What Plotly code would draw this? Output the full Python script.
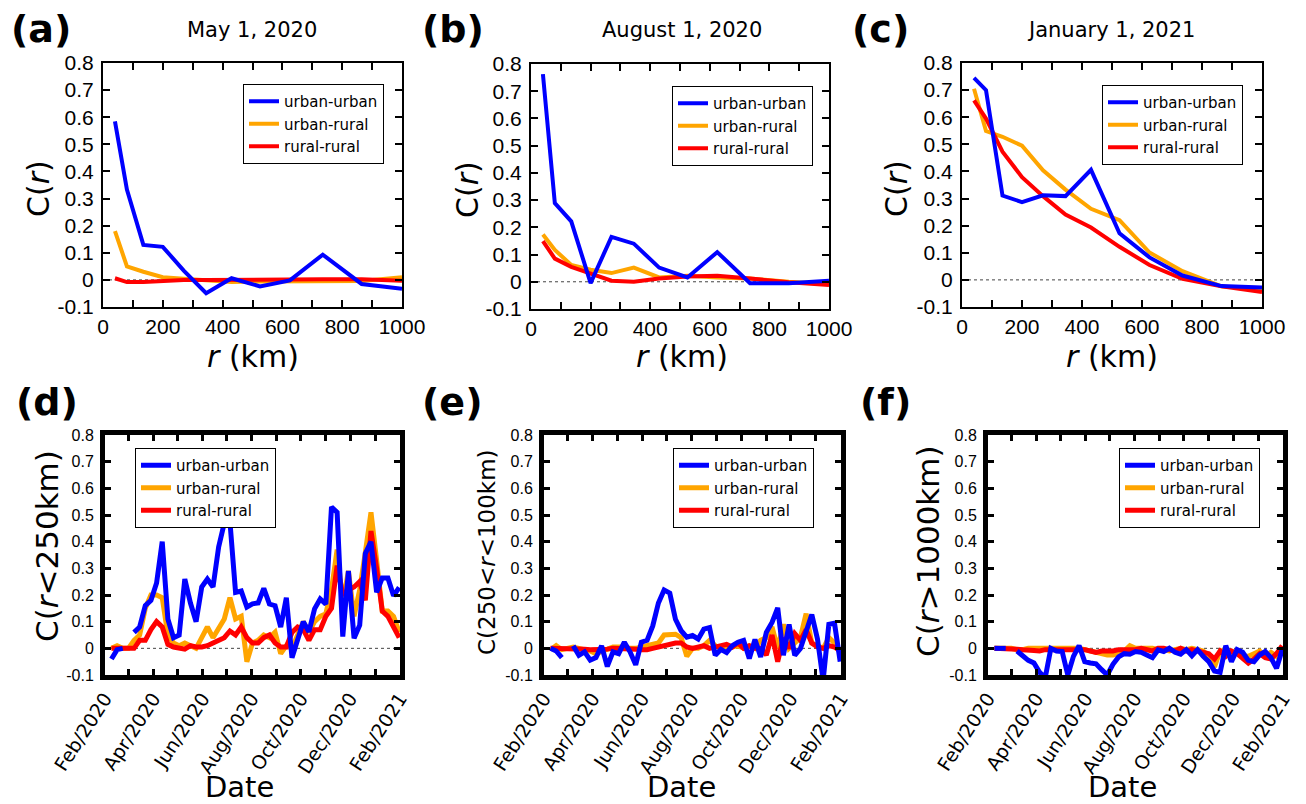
import plotly.graph_objects as go
import pandas as pd

W, H = 1306, 804

# ---------------- data: top row, C(r) vs distance ----------------
R_KM = [40, 80, 135, 200, 270, 345, 430, 525, 625, 735, 865, 1000]

UU_MAY = [0.585, 0.333, 0.129, 0.122, 0.034, -0.049, 0.006, -0.024, -0.002, 0.093, -0.015, -0.033]
UR_MAY = [0.18, 0.05, 0.03, 0.01, 0.004, -0.002, -0.008, -0.006, -0.006, -0.005, -0.004, 0.01]
RR_MAY = [0.006, -0.008, -0.008, -0.003, 0.0, 0.0, 0.001, 0.003, 0.002, 0.002, 0.002, -0.003]

UU_AUG = [0.763, 0.289, 0.222, -0.005, 0.165, 0.14, 0.052, 0.016, 0.109, -0.005, -0.005, 0.004]
UR_AUG = [0.174, 0.117, 0.062, 0.044, 0.032, 0.052, 0.016, 0.022, 0.016, 0.012, 0.0, -0.008]
RR_AUG = [0.149, 0.085, 0.055, 0.032, 0.004, 0.0, 0.012, 0.019, 0.022, 0.012, -0.002, -0.012]

UU_JAN = [0.745, 0.70, 0.311, 0.287, 0.312, 0.309, 0.406, 0.172, 0.083, 0.016, -0.023, -0.028]
UR_JAN = [0.705, 0.549, 0.528, 0.495, 0.404, 0.333, 0.262, 0.22, 0.101, 0.032, -0.024, -0.035]
RR_JAN = [0.662, 0.595, 0.473, 0.379, 0.309, 0.241, 0.193, 0.122, 0.055, 0.004, -0.024, -0.045]

# ---------------- data: bottom row, weekly series ----------------
DATES = pd.date_range("2020-02-09", periods=52, freq="7D")

UU_SHORT = [-0.04, -0.005, 0.0, None, 0.06, 0.08, 0.16, 0.18, 0.245, 0.40,
            0.11, 0.04, 0.05, 0.26, 0.17, 0.10, 0.23, 0.26, 0.23, 0.38,
            0.47, 0.475, 0.21, 0.215, 0.155, 0.167, 0.17, 0.225, 0.166, 0.16,
            0.08, 0.19, -0.035, 0.026, 0.10, 0.062, 0.148, 0.185, 0.166, 0.53,
            0.51, 0.044, 0.29, 0.038, 0.087, 0.356, 0.40, 0.21, 0.264, 0.264,
            0.197, 0.228]
UR_SHORT = [0.0, 0.01, 0.0, 0.0, 0.03, 0.05, 0.15, 0.2, 0.2, 0.19,
            0.05, 0.02, 0.01, 0.02, 0.01, 0.0, 0.04, 0.08, 0.04, 0.08,
            0.11, 0.19, 0.11, 0.12, -0.05, 0.02, 0.03, 0.05, 0.04, 0.06,
            -0.02, 0.01, 0.0, 0.05, 0.10, 0.06, 0.10, 0.12, 0.13, 0.22,
            0.37, 0.17, 0.29, 0.12, 0.22, 0.36, 0.51, 0.33, 0.14, 0.14,
            0.12, 0.06]
RR_SHORT = [0.0, 0.0, 0.0, 0.0, 0.0, 0.03, 0.03, 0.07, 0.10, 0.08,
            0.015, 0.005, 0.003, -0.003, 0.01, 0.005, 0.005, 0.01, 0.02, 0.03,
            0.04, 0.065, 0.05, 0.08, 0.04, 0.02, 0.02, 0.04, 0.05, 0.02,
            0.005, 0.005, 0.06, 0.08, 0.07, 0.03, 0.07, 0.07, 0.12, 0.15,
            0.31, 0.2, 0.22, 0.23, 0.25, 0.18, 0.44, 0.3, 0.14, 0.12,
            0.08, 0.04]

UU_MID = [0.0, -0.01, -0.035, None, 0.01, -0.026, -0.013, -0.044, -0.035, 0.009,
          -0.068, -0.013, -0.02, 0.023, -0.013, -0.062, 0.023, 0.03, 0.084, 0.17,
          0.219, 0.207, 0.109, 0.066, 0.042, 0.048, 0.035, 0.072, 0.078, -0.026,
          -0.004, -0.016, 0.01, 0.023, 0.03, -0.038, 0.033, -0.032, 0.06, 0.097,
          0.152, -0.026, 0.09, -0.026, -0.001, 0.06, 0.127, 0.035, -0.12, 0.09,
          0.094, -0.05]
UR_MID = [-0.005, 0.01, -0.005, 0.0, 0.005, 0.0, -0.005, -0.01, -0.02, -0.01,
          0.0, 0.005, 0.005, 0.005, 0.0, 0.0, 0.005, 0.01, 0.015, 0.02,
          0.05, 0.05, 0.053, 0.04, -0.03, 0.0, 0.0, 0.01, 0.03, 0.01,
          0.0, 0.005, 0.005, 0.01, 0.0, 0.01, 0.0, 0.03, 0.04, 0.08,
          0.0, 0.09, 0.0, 0.02, 0.04, 0.13, 0.02, 0.01, 0.0, 0.04,
          0.02, -0.01]
RR_MID = [0.0, 0.0, 0.0, 0.0, 0.0, -0.003, -0.003, -0.005, -0.005, -0.005,
          -0.003, 0.0, 0.0, 0.0, 0.0, -0.003, -0.005, -0.005, 0.0, 0.005,
          0.01, 0.015, 0.02, 0.02, 0.005, 0.0, 0.005, 0.01, 0.0, 0.005,
          0.01, 0.015, 0.005, 0.02, 0.0, 0.01, 0.0, 0.0, -0.025, 0.05,
          -0.05, 0.04, 0.0, 0.055, 0.03, 0.07, 0.02, 0.005, 0.0, 0.01,
          0.005, -0.01]

UU_LONG = [0.0, 0.0, 0.0, None, -0.01, -0.03, -0.045, -0.055, -0.09, -0.11,
           0.0, -0.01, -0.012, -0.1, -0.03, 0.01, -0.05, -0.055, -0.058, -0.08,
           -0.1, -0.06, -0.032, -0.02, -0.022, -0.012, -0.015, -0.025, -0.035, -0.006,
           -0.012, 0.0, -0.015, -0.022, -0.005, -0.028, -0.005, -0.03, -0.05, -0.085,
           -0.09, 0.01, -0.05, -0.005, -0.015, -0.045, -0.05, -0.025, -0.012, -0.035,
           -0.075, -0.005]
UR_LONG = [0.0, 0.0, 0.0, 0.0, -0.005, -0.005, 0.0, 0.0, 0.0, -0.003,
           -0.003, -0.002, 0.0, 0.0, 0.0, 0.0, -0.005, -0.01, -0.015, -0.02,
           -0.025, -0.025, -0.02, -0.01, 0.01, 0.0, 0.0, 0.0, 0.0, -0.005,
           -0.005, -0.01, -0.005, 0.0, -0.005, 0.0, -0.005, -0.01, -0.03, -0.07,
           -0.01, -0.005, -0.02, -0.01, -0.03, -0.03, -0.02, -0.01, -0.03, -0.015,
           -0.03, 0.005]
RR_LONG = [0.0, 0.0, 0.0, 0.0, -0.003, -0.005, -0.005, -0.008, -0.01, -0.005,
           -0.005, -0.005, -0.005, -0.005, -0.005, -0.005, -0.005, -0.01, -0.015, -0.01,
           -0.01, -0.01, -0.005, -0.005, -0.005, -0.005, 0.0, -0.005, -0.01, 0.0,
           0.0, -0.005, -0.01, 0.0, -0.01, -0.005, -0.01, -0.015, -0.02, -0.04,
           -0.01, -0.03, -0.01, -0.02, -0.04, -0.055, -0.04, -0.02, -0.035, -0.04,
           -0.02, 0.01]

# tick labels
Y_TICKS = [-0.1, 0, 0.1, 0.2, 0.3, 0.4, 0.5, 0.6, 0.7, 0.8]
Y_TICKTEXT = ["-0.1", "0", "0.1", "0.2", "0.3", "0.4", "0.5", "0.6", "0.7", "0.8"]
R_TICKS = [0, 100, 200, 300, 400, 500, 600, 700, 800, 900, 1000]
R_TICKTEXT = ["0", "", "200", "", "400", "", "600", "", "800", "", "1000"]
MONTH_TICKS = pd.date_range("2020-02-01", "2021-02-01", freq="MS")
MONTH_TICKTEXT = ["Feb/2020", "", "Apr/2020", "", "Jun/2020", "", "Aug/2020", "",
                  "Oct/2020", "", "Dec/2020", "", "Feb/2021"]

SERIES_NAMES = ["urban-urban", "urban-rural", "rural-rural"]
BLUE, ORANGE, RED = "#0000FF", "#FFA500", "#FF0000"

TITLE_FONT = "DejaVu Sans"
TICK_FONT = "Liberation Sans, Arial"


def fx(px):
    return px / W


def fy(py):
    return 1 - py / H


# panel geometry (pixels: inner plot area)
panels = [
    dict(label="(a)", title="May 1, 2020", box=(103, 402, 63, 307), kind="r",
         data=(UU_MAY, UR_MAY, RR_MAY), ytitle="C(<i>r</i>)"),
    dict(label="(b)", title="August 1, 2020", box=(531, 829, 64, 309), kind="r",
         data=(UU_AUG, UR_AUG, RR_AUG), ytitle="C(<i>r</i>)"),
    dict(label="(c)", title="January 1, 2021", box=(962, 1262, 63, 307), kind="r",
         data=(UU_JAN, UR_JAN, RR_JAN), ytitle="C(<i>r</i>)"),
    dict(label="(d)", title=None, box=(105, 400, 435, 675), kind="t",
         data=(UU_SHORT, UR_SHORT, RR_SHORT), ytitle="C(<i>r</i>&lt;250km)"),
    dict(label="(e)", title=None, box=(544, 841, 435, 675), kind="t",
         data=(UU_MID, UR_MID, RR_MID), ytitle="C(250&lt;<i>r</i>&lt;100km)"),
    dict(label="(f)", title=None, box=(988, 1283, 435, 675), kind="t",
         data=(UU_LONG, UR_LONG, RR_LONG), ytitle="C(<i>r</i>&gt;1000km)"),
]

label_pos = [(41, 29), (453, 29), (880, 29), (47, 402), (452, 402), (886, 402)]
title_pos = [(252, 30), (682, 30), (1111, 30)]
ytitle_pos = [(39, 189, 30), (468, 190, 30), (897, 189, 30),
              (47, 546, 31), (487, 552, 23), (928, 551, 31)]
xtitle_pos = [(253, 356), (682, 356), (1112, 356), (239, 787), (681, 787), (1122, 787)]
legend_pos = [(243, 84), (672, 86), (1102, 85), (135, 448), (673, 448), (1119, 448)]

fig = go.Figure()
annotations = []
shapes = []
layout = {}

for i, p in enumerate(panels):
    n = i + 1
    sfx = "" if n == 1 else str(n)
    xa, ya = "x" + sfx, "y" + sfx
    x0, x1, y0, y1 = p["box"]
    top = p["kind"] == "r"
    lw = 4 if top else 5
    leg = "legend" + sfx
    xs = R_KM if top else DATES
    uu, ur, rr = p["data"]
    # draw order: orange, red, blue; legend order by rank
    for vals, name, col, rank in [(ur, SERIES_NAMES[1], ORANGE, 2),
                                  (rr, SERIES_NAMES[2], RED, 3),
                                  (uu, SERIES_NAMES[0], BLUE, 1)]:
        fig.add_trace(go.Scatter(x=xs, y=vals, mode="lines", name=name,
                                 line=dict(color=col, width=lw), legendrank=rank,
                                 xaxis=xa, yaxis=ya, legend=leg, showlegend=True))

    axis_line_w = 2 if top else 5
    common = dict(showline=True, linecolor="black", linewidth=axis_line_w, mirror="allticks",
                  ticks="inside", ticklen=7 if top else 6, tickwidth=2 if top else 3,
                  tickcolor="black", showgrid=False, zeroline=False, automargin=False)
    if top:
        xaxis = dict(domain=[fx(x0), fx(x1)], range=[0, 1000], tickmode="array",
                     tickvals=R_TICKS, ticktext=R_TICKTEXT,
                     tickfont=dict(family=TICK_FONT, size=21, color="black"),
                     anchor=ya, **common)
    else:
        xaxis = dict(domain=[fx(x0), fx(x1)], type="date",
                     range=["2020-02-01", "2021-02-01"], tickmode="array",
                     tickvals=list(MONTH_TICKS), ticktext=MONTH_TICKTEXT, tickangle=-57,
                     tickfont=dict(family=TITLE_FONT, size=19, color="black"),
                     anchor=ya, **common)
    yaxis = dict(domain=[fy(y1), fy(y0)], range=[-0.1, 0.8], tickmode="array",
                 tickvals=Y_TICKS, ticktext=Y_TICKTEXT,
                 tickfont=dict(family=TICK_FONT, size=21 if top else 16, color="black"),
                 anchor=xa, ticklabelstandoff=3, **common)
    layout["xaxis" + sfx] = xaxis
    layout["yaxis" + sfx] = yaxis

    lx, ly = legend_pos[i]
    layout[leg] = dict(x=fx(lx), y=fy(ly), xanchor="left", yanchor="top",
                       bgcolor="white", bordercolor="black", borderwidth=1,
                       font=dict(family=TITLE_FONT, size=15, color="black"),
                       tracegroupgap=0, itemwidth=30)

    # dotted zero line
    shapes.append(dict(type="line", xref=xa + " domain", yref=ya, x0=0, x1=1, y0=0, y1=0,
                       line=dict(color="#444444", width=1, dash="dot"), layer="below"))

    # panel label
    px_, py_ = label_pos[i]
    annotations.append(dict(text="<b>" + p["label"] + "</b>", x=fx(px_), y=fy(py_),
                            xref="paper", yref="paper", showarrow=False,
                            xanchor="center", yanchor="middle",
                            font=dict(family=TITLE_FONT, size=38, color="black")))
    if p["title"]:
        tx, ty = title_pos[i]
        annotations.append(dict(text=p["title"], x=fx(tx), y=fy(ty), xref="paper", yref="paper",
                                showarrow=False, xanchor="center", yanchor="middle",
                                font=dict(family=TITLE_FONT, size=21, color="black")))
    yx, yy, ys = ytitle_pos[i]
    annotations.append(dict(text=p["ytitle"], x=fx(yx), y=fy(yy), xref="paper", yref="paper",
                            showarrow=False, textangle=-90, xanchor="center", yanchor="middle",
                            font=dict(family=TITLE_FONT, size=ys, color="black")))
    xx, xy = xtitle_pos[i]
    annotations.append(dict(text="<i>r</i> (km)" if top else "Date", x=fx(xx), y=fy(xy),
                            xref="paper", yref="paper", showarrow=False,
                            xanchor="center", yanchor="middle",
                            font=dict(family=TITLE_FONT, size=30 if top else 29, color="black")))

fig.update_layout(template="none", width=W, height=H, margin=dict(l=0, r=0, t=0, b=0),
                  paper_bgcolor="white", plot_bgcolor="white",
                  annotations=annotations, shapes=shapes, **layout)

# remove the browser's default 8px page margin so the figure fills the window
fig.write_html("out.html", config={"displayModeBar": False},
               post_script="document.body.style.margin='0px';")
